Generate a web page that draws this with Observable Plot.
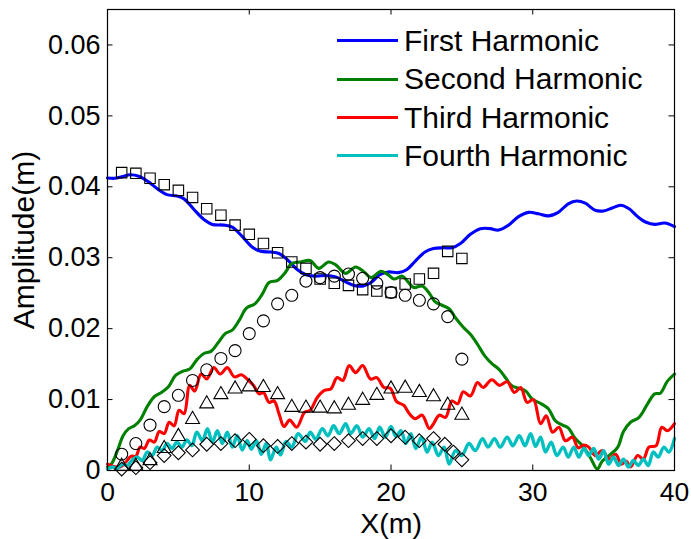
<!DOCTYPE html>
<html>
<head>
<meta charset="utf-8">
<script src="https://cdn.jsdelivr.net/npm/d3@7"></script>
<script src="https://cdn.jsdelivr.net/npm/@observablehq/plot@0.6"></script>
<style>
  body { margin: 0; background: #fff; }
  #chart { position: relative; width: 691px; height: 539px; font-family: "Liberation Sans", Arial, sans-serif; }
  #chart svg { display: block; }
  .legend { position: absolute; left: 337px; top: 21.5px; }
  .legend .row { display: flex; align-items: center; height: 38.4px; }
  .legend .swatch { width: 61px; height: 3px; margin-right: 6px; }
  .legend .name { font-size: 30px; color: #000; line-height: 33.5px; white-space: nowrap; }
</style>
</head>
<body>
<div id="chart"></div>
<script>
// Axis ticks and their labels
const xTicks = [0, 10, 20, 30, 40];
const yTicks = [0, 0.01, 0.02, 0.03, 0.04, 0.05, 0.06];
const yTickLabels = ["0", "0.01", "0.02", "0.03", "0.04", "0.05", "0.06"];

// Series names and colours
const seriesNames = ["First Harmonic", "Second Harmonic", "Third Harmonic", "Fourth Harmonic"];
const seriesColors = ["#0000ff", "#008000", "#ff0000", "#00bfbf"];

// Simulated harmonic amplitudes along the flume, [X (m), amplitude (m)]
const firstHarmonic = [
  [0, .04125], [0.5, .0412], [1.0, .0414], [1.6, .0417], [2.2, .0415], [2.9, .0407], [3.6, .0396],
  [4.2, .0389], [4.9, .0387], [5.4, .0383], [6.1, .0368], [6.8, .0354], [7.4, .0347], [8.2, .0346],
  [8.8, .0343], [9.5, .0330], [10.2, .0315], [10.8, .0309], [11.5, .0308], [12.1, .0306], [12.7, .0297],
  [13.4, .0283], [14.0, .0276], [14.7, .0274], [15.4, .0275], [16.1, .0273], [16.7, .0267], [17.4, .0261],
  [18.0, .0260], [18.6, .0265], [19.2, .0276], [19.8, .0280], [20.5, .0279], [21.1, .0283], [21.7, .0295],
  [22.4, .0308], [23.0, .0313], [23.7, .0314], [24.3, .0314], [24.9, .0320], [25.6, .0333], [26.3, .0341],
  [27.0, .0341], [27.6, .0339], [28.3, .0346], [29.0, .0358], [29.7, .0364], [30.4, .0362], [31.1, .0359],
  [31.8, .0364], [32.5, .0376], [33.1, .0380], [33.7, .0377], [34.4, .0367], [35.0, .0366], [35.6, .0370],
  [36.2, .0374], [36.8, .0369], [37.4, .0358], [38.0, .0350], [38.6, .0347], [39.3, .0349], [40, .0344]
];
const secondHarmonic = [
  [0, .0005], [0.3, .0010], [0.7, .0028], [1.1, .0049], [1.5, .0059], [1.9, .0063], [2.3, .0071],
  [2.8, .0090], [3.3, .0104], [3.8, .0110], [4.3, .0118], [4.8, .0134], [5.3, .0140], [5.8, .0143],
  [6.3, .0156], [6.8, .0165], [7.3, .0168], [7.8, .0180], [8.3, .0193], [8.8, .0198], [9.3, .0212],
  [9.8, .0229], [10.4, .0235], [10.9, .0248], [11.4, .0265], [12.0, .0268], [12.5, .0278], [13.0, .0292],
  [13.6, .0294], [14.3, .0296], [14.9, .0285], [15.6, .0294], [16.1, .0290], [16.8, .0278], [17.5, .0287],
  [18.1, .0280], [18.6, .0272], [19.3, .0281], [19.8, .0276], [20.2, .0270], [20.8, .0274], [21.2, .0266],
  [21.6, .0258], [22.2, .0260], [22.7, .0250], [23.1, .0238], [23.6, .0233], [24.1, .0228], [24.6, .0214],
  [25.1, .0202], [25.6, .0192], [26.1, .0178], [26.6, .0162], [27.1, .0151], [27.6, .0143], [28.0, .0133],
  [28.5, .0120], [29.0, .0116], [29.5, .0112], [30.0, .0100], [30.6, .0094], [31.1, .0087], [31.6, .0070],
  [32.1, .0064], [32.5, .0060], [33.0, .0045], [33.6, .0033], [34.1, .0017], [34.55, .0002], [34.9, .0013],
  [35.5, .0023], [36.0, .0033], [36.4, .0055], [36.9, .0068], [37.5, .0075], [38.1, .0094], [38.6, .0108],
  [39.0, .0109], [39.5, .0126], [40, .0136]
];
const thirdHarmonic = [
  [0, .0009], [0.4, .0006], [0.9, .0005], [1.3, .0012], [1.65, .0020], [2.0, .0020], [2.3, .0033],
  [2.6, .0031], [2.95, .0043], [3.3, .0040], [3.65, .0055], [4.0, .0052], [4.35, .0068], [4.7, .0063],
  [5.05, .0085], [5.4, .0080], [5.8, .0120], [6.15, .0112], [6.6, .0136], [7.0, .0129], [7.5, .0145],
  [7.95, .0136], [8.45, .0145], [8.95, .0132], [9.45, .0135], [9.9, .0128], [10.3, .0120], [10.7, .0108],
  [11.0, .0110], [11.4, .0096], [11.75, .0098], [12.1, .0080], [12.45, .0062], [12.85, .0071], [13.35, .0061],
  [13.9, .0082], [14.3, .0085], [14.8, .0103], [15.3, .0113], [15.75, .0115], [16.2, .0131], [16.6, .0127],
  [17.05, .0148], [17.5, .0138], [18.0, .0148], [18.55, .0129], [19.0, .0131], [19.5, .0117], [19.95, .0116],
  [20.4, .0097], [20.9, .0092], [21.3, .0080], [21.7, .0073], [22.2, .0078], [22.7, .0059], [23.0, .0066],
  [23.4, .0078], [23.85, .0075], [24.3, .0098], [24.7, .0094], [25.1, .0111], [25.6, .0105], [26.1, .0124],
  [26.5, .0117], [27.1, .0128], [27.65, .0120], [28.2, .0125], [28.7, .0110], [29.15, .0117], [29.6, .0096],
  [30.05, .0100], [30.55, .0066], [30.95, .0077], [31.4, .0054], [31.85, .0061], [32.3, .0042], [32.8, .0047],
  [33.2, .0032], [33.6, .0036], [33.95, .0033], [34.4, .0021], [34.9, .0028], [35.4, .0016], [35.85, .0023],
  [36.25, .0009], [36.6, .0013], [36.9, .0005], [37.4, .0021], [37.8, .0016], [38.2, .0033], [38.7, .0035],
  [39.1, .0061], [39.5, .0056], [40, .0066]
];
const fourthHarmonic = [
  [0, .0002], [0.35, .0005], [0.7, .0003], [1.05, .0009], [1.4, .0007], [1.75, .0015], [2.1, .0019],
  [2.45, .0014], [2.8, .0026], [3.15, .0021], [3.5, .0033], [3.85, .0028], [4.2, .0038], [4.55, .0031],
  [4.9, .0040], [5.25, .0033], [5.6, .0043], [5.95, .0035], [6.3, .0054], [6.7, .0042], [7.05, .0059],
  [7.4, .0040], [7.75, .0056], [8.1, .0038], [8.45, .0054], [8.8, .0033], [9.15, .0049], [9.5, .0029],
  [9.85, .0042], [10.15, .0030], [10.5, .0042], [10.85, .0023], [11.2, .0038], [11.5, .0015], [11.9, .0033],
  [12.2, .0022], [12.6, .0041], [13.0, .0033], [13.45, .0052], [13.95, .0041], [14.3, .0054], [14.7, .0044],
  [15.15, .0059], [15.55, .0049], [15.95, .0063], [16.35, .0052], [16.8, .0066], [17.15, .0052], [17.6, .0063],
  [18.0, .0047], [18.45, .0059], [18.85, .0045], [19.2, .0061], [19.6, .0047], [20.0, .0062], [20.35, .0048],
  [20.7, .0056], [21.05, .0038], [21.4, .0052], [21.75, .0031], [22.15, .0047], [22.55, .0026], [22.9, .0040],
  [23.35, .0021], [23.75, .0033], [24.1, .0009], [24.55, .0028], [25.0, .0021], [25.5, .0038], [25.95, .0028],
  [26.45, .0045], [26.85, .0033], [27.3, .0045], [27.7, .0033], [28.2, .0047], [28.6, .0035], [29.05, .0049],
  [29.45, .0035], [29.85, .0052], [30.2, .0034], [30.55, .0047], [30.9, .0026], [31.3, .0040], [31.7, .0021],
  [32.15, .0033], [32.5, .0019], [32.9, .0033], [33.25, .0019], [33.6, .0031], [33.95, .0021], [34.3, .0031],
  [34.65, .0016], [35.0, .0028], [35.35, .0009], [35.7, .0019], [36.05, .0007], [36.4, .0016], [36.75, .0005],
  [37.1, .0014], [37.45, .0007], [37.8, .0016], [38.15, .0007], [38.5, .0026], [38.85, .0019], [39.25, .0033],
  [39.6, .0026], [40, .0045]
];

// Measured amplitudes at the wave gauges
const gaugeX = [1, 2, 3, 4, 5, 6, 7, 8, 9, 10, 11, 12, 13, 14, 15, 16, 17, 18, 19, 20, 21, 22, 23, 24, 25];
const firstMeasured = [.0420, .0419, .0412, .0403, .0395, .0385, .0369, .0360, .0346, .0333, .0320, .0307, .0294,
  .0285, .0270, .0264, .0261, .0255, .0253, .0251, .0263, .0270, .0278, .0309, .0299];
const secondMeasured = [.0023, .0038, .0064, .0090, .0106, .0127, .0142, .0158, .0169, .0193, .0211, .0235, .0247,
  .0267, .0272, .0274, .0277, .0271, .0264, .0251, .0247, .0240, .0235, .0217, .0157];
const thirdMeasured = [.0006, .0006, .0014, .0031, .0048, .0072, .0094, .0107, .0115, .0118, .0117, .0107, .0089,
  .0088, .0088, .0087, .0092, .0099, .0106, .0115, .0116, .0110, .0104, .0092, .0078];
const fourthGaugeX = [1, 2, 3, 4, 5, 6, 7, 8, 9, 10, 11, 12, 13, 14, 15, 16, 17, 18, 19, 20, 21, 22, 23, 23.8, 24.4, 25];
const fourthMeasured = [.0002, .0004, .0011, .0021, .0025, .0029, .0037, .0038, .0042, .0044, .0035, .0034, .0038,
  .0040, .0037, .0038, .0042, .0045, .0045, .0049, .0047, .0042, .0045, .0037, .0026, .0015];

const W = 691, H = 539;
const margin = {top: 9, right: 17, bottom: 69, left: 107};
const frameW = W - margin.left - margin.right;
const frameH = H - margin.top - margin.bottom;
const tickLen = 5.5;

const toRows = pts => pts.map(([x, y]) => ({x, y}));
const gaugeRows = (xs, ys) => xs.map((x, i) => ({x, y: ys[i]}));

const simulated = [firstHarmonic, secondHarmonic, thirdHarmonic, fourthHarmonic];
const measured = [
  {rows: gaugeRows(gaugeX, firstMeasured), symbol: "square", r: 5.9},
  {rows: gaugeRows(gaugeX, secondMeasured), symbol: "circle", r: 6},
  {rows: gaugeRows(gaugeX, thirdMeasured), symbol: "triangle", r: 5.2},
  {rows: gaugeRows(fourthGaugeX, fourthMeasured), symbol: "diamond2", r: 6.2}
];

const plot = Plot.plot({
  width: W,
  height: H,
  marginTop: margin.top,
  marginRight: margin.right,
  marginBottom: margin.bottom,
  marginLeft: margin.left,
  x: {domain: [0, 40]},
  y: {domain: [0, 0.065]},
  style: {fontFamily: "'Liberation Sans', Arial, sans-serif", background: "white", color: "black"},
  marks: [
    ...simulated.map((pts, i) => Plot.line(toRows(pts), {
      x: "x", y: "y", stroke: seriesColors[i], strokeWidth: i === 3 ? 3.4 : 3.1, curve: "catmull-rom"
    })),
    ...measured.map(m => Plot.dot(m.rows, {
      x: "x", y: "y", symbol: m.symbol, r: m.r, fill: "none", stroke: "#000", strokeWidth: 1.1
    })),
    // inward-pointing ticks on all four sides
    Plot.tickX(xTicks, {x: d => d, insetTop: frameH - tickLen, stroke: "#000"}),
    Plot.tickX(xTicks, {x: d => d, insetBottom: frameH - tickLen, stroke: "#000"}),
    Plot.tickY(yTicks, {y: d => d, insetRight: frameW - tickLen, stroke: "#000"}),
    Plot.tickY(yTicks, {y: d => d, insetLeft: frameW - tickLen, stroke: "#000"}),
    Plot.frame({stroke: "#000", strokeWidth: 1.2}),
    Plot.axisX(xTicks, {tickSize: 0, tickPadding: 12, fontSize: 26.5, label: null}),
    Plot.axisY(yTicks, {tickSize: 0, tickPadding: 7, fontSize: 27, label: null,
      tickFormat: d => yTickLabels[yTicks.indexOf(d)]}),
    Plot.text(["X(m)"], {text: d => d, frameAnchor: "bottom", dy: 62.5, lineAnchor: "bottom", textAnchor: "middle", fontSize: 28.5}),
    Plot.text(["Amplitude(m)"], {text: d => d, frameAnchor: "left", dx: -74, rotate: -90, lineAnchor: "bottom", textAnchor: "middle", fontSize: 30})
  ]
});

const chart = document.getElementById("chart");
chart.appendChild(plot);

// Legend: line swatches with series names, top right inside the axes
const legend = document.createElement("div");
legend.className = "legend";
seriesNames.forEach((name, i) => {
  const row = document.createElement("div");
  row.className = "row";
  const sw = document.createElement("span");
  sw.className = "swatch";
  sw.style.background = seriesColors[i];
  const label = document.createElement("span");
  label.className = "name";
  label.textContent = name;
  row.appendChild(sw);
  row.appendChild(label);
  legend.appendChild(row);
});
chart.appendChild(legend);
</script>
</body>
</html>
